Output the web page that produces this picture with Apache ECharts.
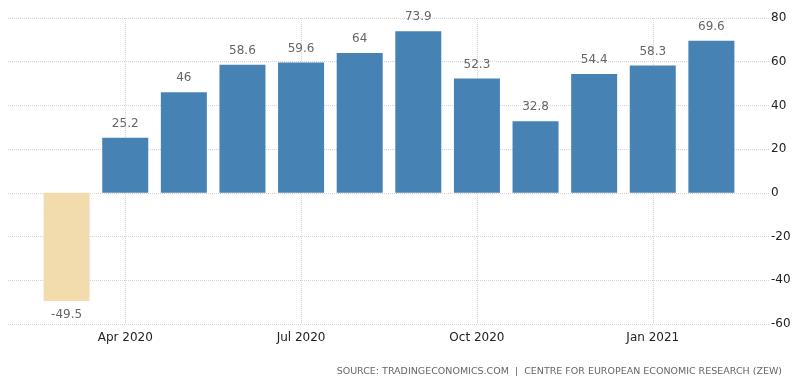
<!DOCTYPE html>
<html><head><meta charset="utf-8">
<script src="https://cdn.jsdelivr.net/npm/echarts@6/dist/echarts.min.js"></script>
<style>html,body{margin:0;padding:0;background:#fff}#c{width:800px;height:384px}</style>
</head><body><div id="c"></div>
<script>
const months = ['Mar 2020','Apr 2020','May 2020','Jun 2020','Jul 2020','Aug 2020','Sep 2020','Oct 2020','Nov 2020','Dec 2020','Jan 2021','Feb 2021'];
const values = [-49.5, 25.2, 46, 58.6, 59.6, 64, 73.9, 52.3, 32.8, 54.4, 58.3, 69.6];
const shownLabels = ['Apr 2020','Jul 2020','Oct 2020','Jan 2021'];
const yTicks = [-60, -40, -20, 0, 20, 40, 60, 80];
const sourceText = 'SOURCE: TRADINGECONOMICS.COM  |  CENTRE FOR EUROPEAN ECONOMIC RESEARCH (ZEW)';

const axisData = [''].concat(months, ['']);
const seriesData = [null].concat(values.map(v => ({
  value: v,
  itemStyle: { color: v < 0 ? '#f2dcae' : '#4682b4' },
  label: { position: v < 0 ? 'bottom' : 'top' }
})), [null]);

const chart = echarts.init(document.getElementById('c'));
chart.setOption({
  animation: false,
  grid: { left: 8, right: 30, top: 18, bottom: 60, containLabel: false },
  xAxis: {
    type: 'category', data: axisData, boundaryGap: false,
    axisLine: { show: false }, axisTick: { show: false },
    axisLabel: {
      interval: (i, v) => shownLabels.indexOf(v) >= 0,
      color: '#222', fontFamily: 'DejaVu Sans', fontSize: 12, margin: 8
    },
    splitLine: {
      show: true,
      interval: (i, v) => shownLabels.indexOf(v) >= 0,
      lineStyle: { color: '#d4d4d4', type: [1, 1], width: 1 }
    }
  },
  yAxis: {
    type: 'value', position: 'right', min: yTicks[0], max: yTicks[yTicks.length-1], interval: 20,
    axisLine: { show: false }, axisTick: { show: false },
    axisLabel: { color: '#222', fontFamily: 'DejaVu Sans', fontSize: 12, margin: 1 },
    splitLine: { lineStyle: { color: '#d4d4d4', type: [1, 1], width: 1 } }
  },
  series: [{
    type: 'bar', data: seriesData, barWidth: 46,
    label: { show: true, color: '#666', fontFamily: 'DejaVu Sans', fontSize: 12, distance: 8 }
  }],
  graphic: [{
    type: 'text', right: 18, top: 367,
    style: { text: sourceText, fill: '#666', font: '9.5px "DejaVu Sans"' }
  }]
});
</script></body></html>
